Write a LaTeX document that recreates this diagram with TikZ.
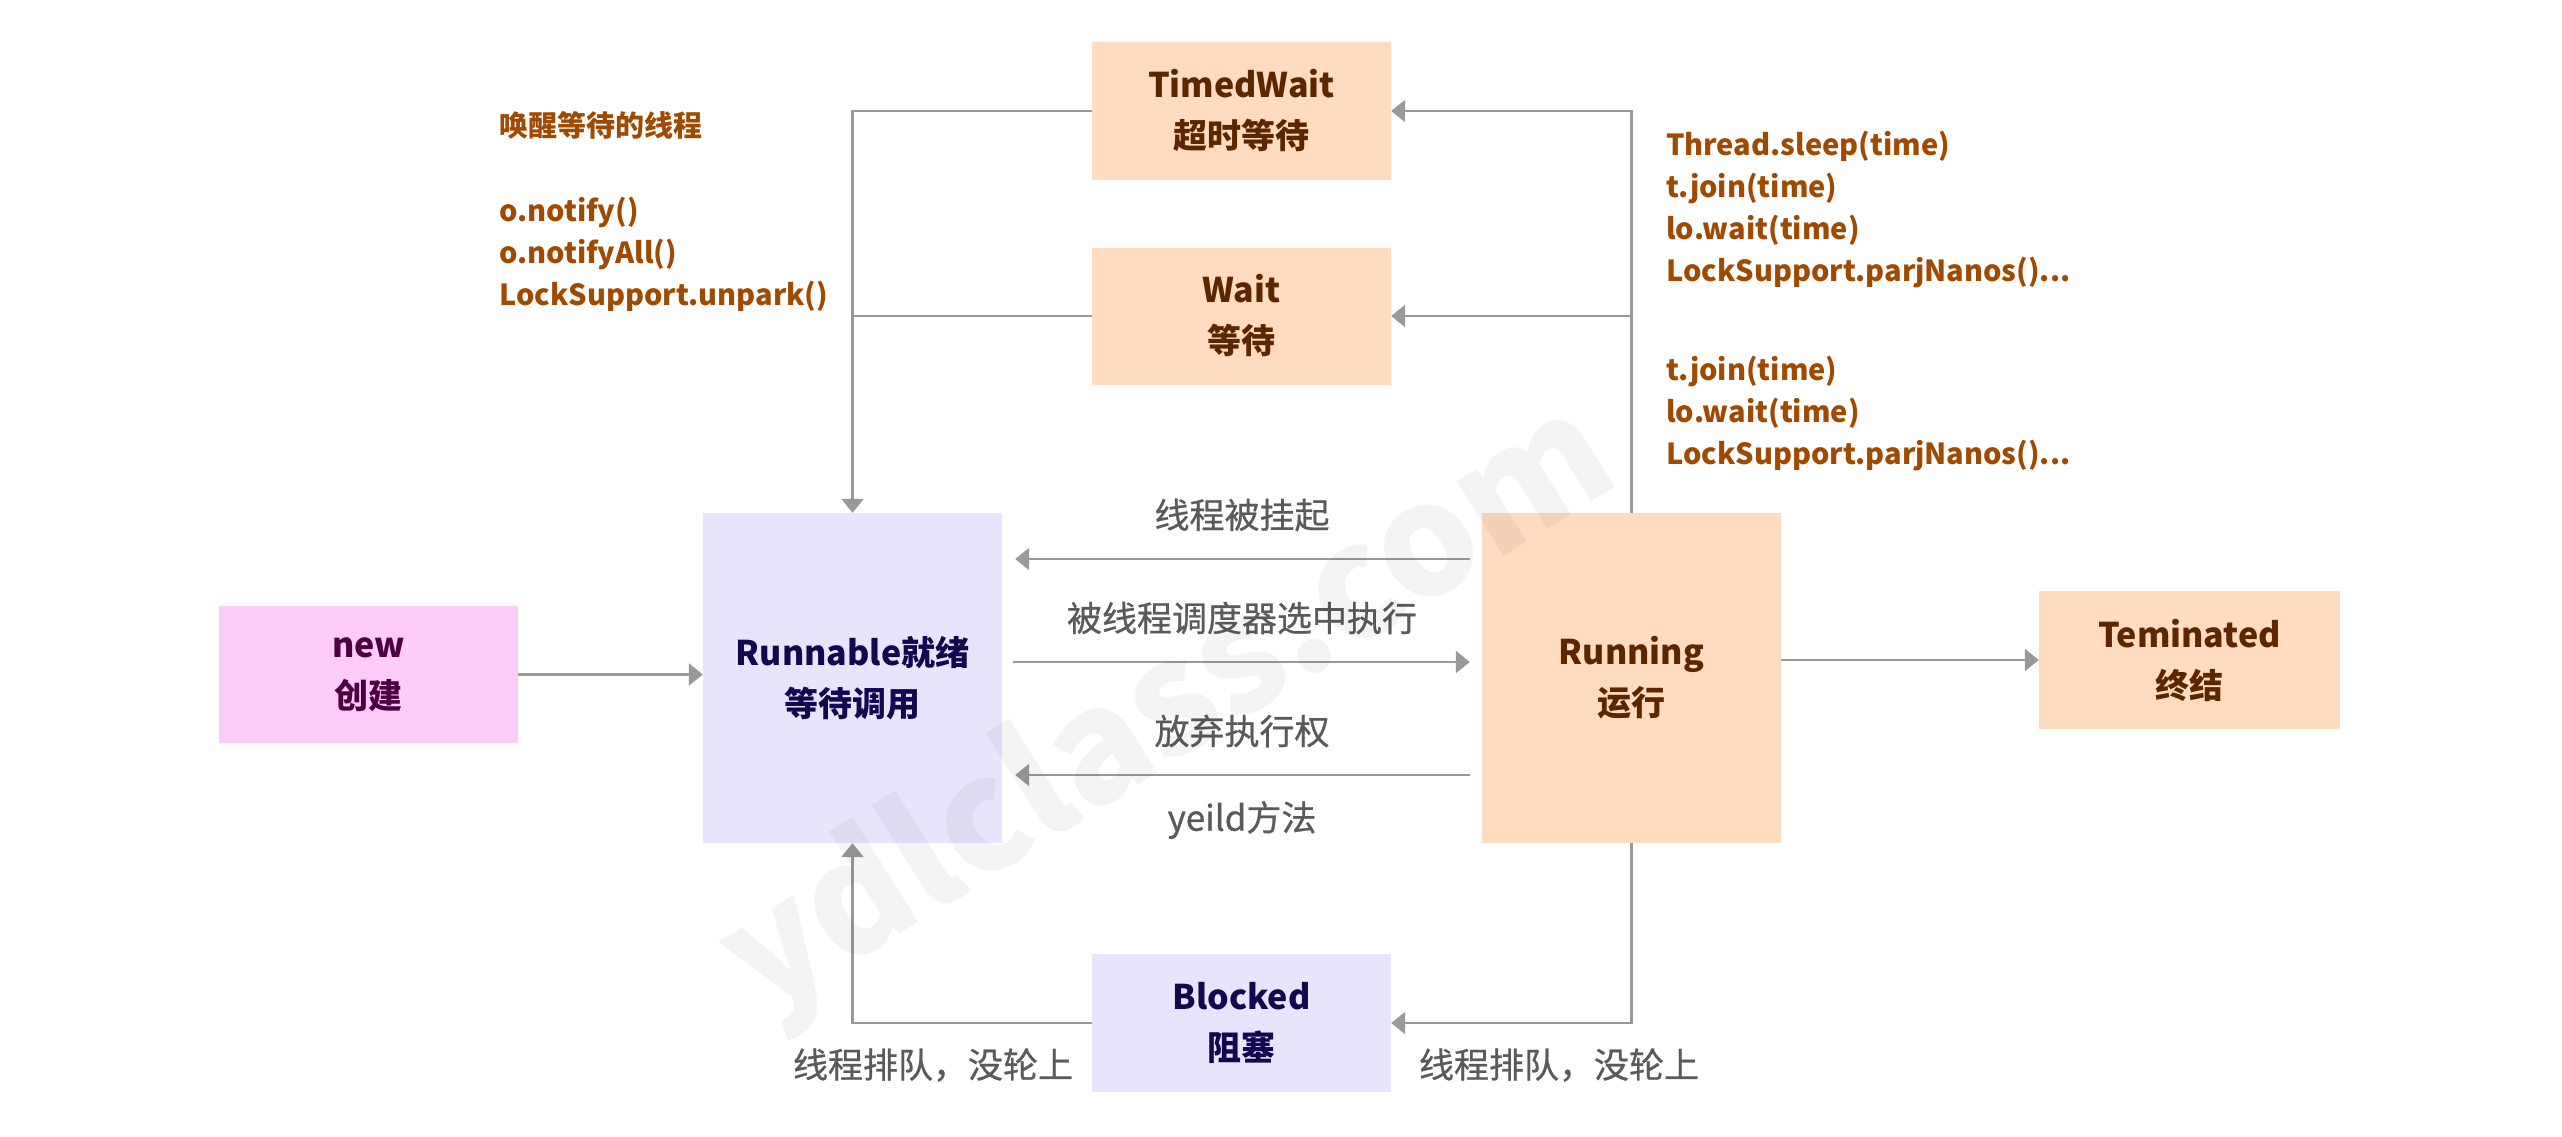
\documentclass[tikz,border=0pt]{standalone}
\usepackage{fontspec}
\setmainfont{Noto Sans CJK SC}
\newfontfamily\medfont{Noto Sans CJK SC}[FakeBold=0.7]
\usetikzlibrary{arrows.meta}
\definecolor{peach}{HTML}{FFDBBF}
\definecolor{lav}{HTML}{E7E5FD}
\definecolor{pinkf}{HTML}{FDCCF9}
\definecolor{peachtxt}{HTML}{5C2700}
\definecolor{lavtxt}{HTML}{12084F}
\definecolor{pinktxt}{HTML}{4E0040}
\definecolor{anno}{HTML}{A04900}
\definecolor{lbl}{HTML}{5A5A5A}
\definecolor{conn}{HTML}{999999}
\tikzset{
  box/.style={rectangle, inner sep=0pt, draw=none, align=center,
    minimum width=299pt, font=\fontsize{34}{51}\selectfont\bfseries},
  peachbox/.style={box, fill=peach, text=peachtxt},
  lavbox/.style={box, fill=lav, text=lavtxt},
  pinkbox/.style={box, fill=pinkf, text=pinktxt},
  arr/.style={draw=conn, line width=2.6pt, -{Triangle[length=14pt,width=22pt]}},
  ln/.style={draw=conn, line width=2.6pt},
  lbltext/.style={text=lbl, inner sep=0pt, font=\fontsize{35}{42}\medfont},
  annotext/.style={text=anno, inner sep=0pt, anchor=west, align=left,
    font=\fontsize{29}{42.3}\selectfont\bfseries},
}
\begin{document}
\begin{tikzpicture}[x=1pt,y=-1pt]
\useasboundingbox (0,0) rectangle (2562,1137);
% boxes
\node[pinkbox, minimum height=137pt] (new) at (368.5,674.5) {new\\创建};
\node[lavbox, minimum height=330pt] (runnable) at (852.5,678) {Runnable就绪\\等待调用};
\node[peachbox, minimum height=330pt] (running) at (1631.5,678) {Running\\运行};
\node[peachbox, minimum width=301pt, minimum height=138pt] (term) at (2189.5,660) {Teminated\\终结};
\node[peachbox, minimum height=138pt] (timed) at (1241.5,111) {TimedWait\\超时等待};
\node[peachbox, minimum height=137pt] (wait) at (1241.5,316) {Wait\\等待};
\node[lavbox, minimum height=138pt] (blocked) at (1241.5,1023) {Blocked\\阻塞};
% connectors
\draw[arr] (new.east) -- (new.east -| runnable.west);
\draw[arr, shorten >=12pt] ([xshift=11pt,yshift=16pt]runnable.east) -- ([yshift=16pt]running.west);
\draw[arr, shorten >=13pt] ([xshift=-12pt,yshift=119pt]running.west) -- ([yshift=119pt]runnable.east);
\draw[arr, shorten >=13pt] ([xshift=-12pt,yshift=-97pt]running.west) -- ([yshift=-97pt]runnable.east);
\draw[arr] (term.west -| running.east) -- (term.west);
\draw[arr] (running.north) |- (timed.east);
\draw[arr] (running.north |- wait.east) -- (wait.east);
\draw[arr] (timed.west) -| (runnable.north);
\draw[ln] (wait.west) -- (wait.west -| runnable.north);
\draw[arr] (running.south) |- (blocked.east);
\draw[arr] (blocked.west) -| (runnable.south);
% labels
\node[lbltext] (l1) at (1242,515) {线程被挂起};
\node[lbltext] (l2) at (1242,618) {被线程调度器选中执行};
\node[lbltext] (l3) at (1242,731) {放弃执行权};
\node[lbltext] (l4) at (1242,820) {yeild方法};
\node[lbltext] (l5) at (933,1065) {线程排队，没轮上};
\node[lbltext] (l6) at (1559,1065) {线程排队，没轮上};
% annotations
\node[annotext] (a1) at (499,211.5) {唤醒等待的线程\\[42.3pt]o.notify()\\o.notifyAll()\\LockSupport.unpark()};
\node[annotext] (a2) at (1666,209.5) {Thread.sleep(time)\\t.join(time)\\lo.wait(time)\\LockSupport.parjNanos()...};
\node[annotext] (a3) at (1666,413.5) {t.join(time)\\lo.wait(time)\\LockSupport.parjNanos()...};
% watermark
\node[rotate=32, text=black, text opacity=0.045, inner sep=0pt, font=\fontsize{155}{155}\selectfont\bfseries] (wm) at (1170,712) {ydlclass.com};
\end{tikzpicture}
\end{document}
